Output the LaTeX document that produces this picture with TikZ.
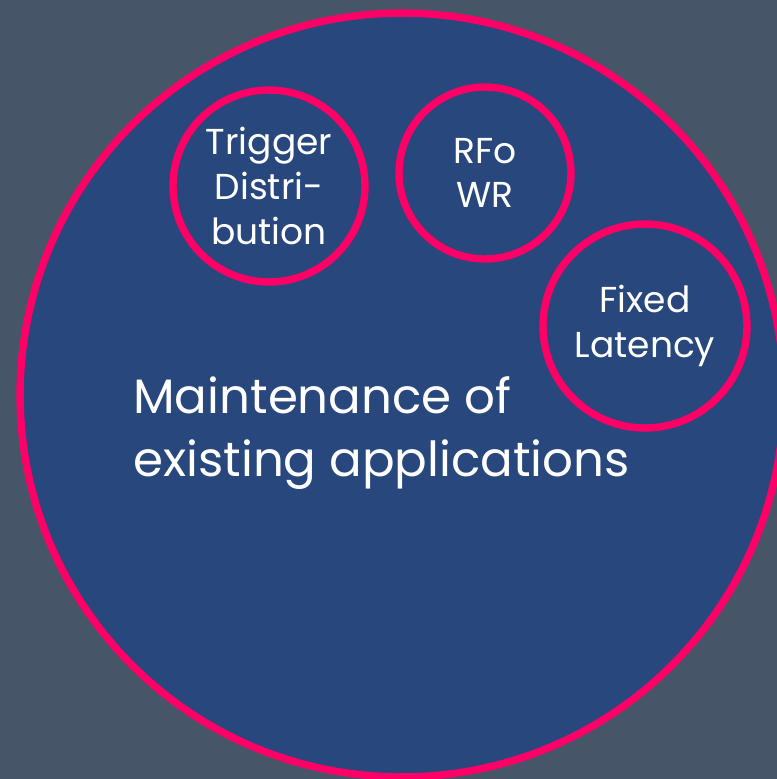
\documentclass[tikz,border=0pt]{standalone}
\usepackage{fontspec}
\setmainfont{Poppins}
\usetikzlibrary{positioning}
\definecolor{Slate}{HTML}{475569}
\definecolor{Navy}{HTML}{27477D}
\definecolor{Rose}{HTML}{FF0066}

\begin{document}
\begin{tikzpicture}[x=0.02cm, y=-0.02cm, every node/.style={text=white, align=center}]
\tikzstyle{ring}=[draw=Rose, line width=4.2pt, circle, fill=Navy, inner sep=0pt]
\tikzstyle{small}=[font=\fontsize{20.5}{25.5}\selectfont]
\tikzstyle{large}=[font=\fontsize{27.5}{36}\selectfont]
\fill[Slate] (0,0) rectangle (777,779);
\useasboundingbox (0,0) rectangle (777,779);
\begin{scope}
\clip (0,0) rectangle (777,779);
\node[ring, minimum size=15.28cm] (apps) at (402,395) {};
\end{scope}
\node[ring, small, minimum size=3.84cm] (trigger) at (269,186) {Trigger\\Distri-\\bution};
\node[ring, small, minimum size=3.44cm] (rfo) at (485,173) {RFo\\WR};
\node[ring, small, minimum size=4.08cm] (latency) at (645,326) {Fixed\\Latency};
\node[large, align=left, anchor=west, inner sep=0pt] (maint) at (133,433) {Maintenance of\\existing applications};
\end{tikzpicture}
\end{document}
